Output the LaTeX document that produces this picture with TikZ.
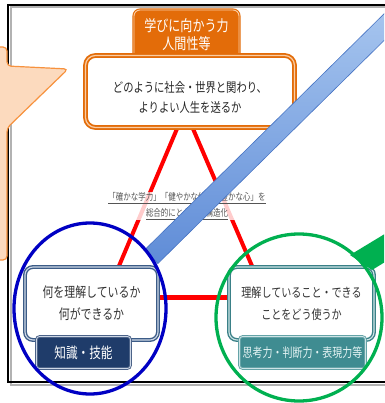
\documentclass[tikz,border=0pt]{standalone}
\usepackage{fontspec}
\newfontfamily\jp{Noto Sans CJK JP}[FakeStretch=0.78]
\usetikzlibrary{calc,shapes.geometric,backgrounds}
\definecolor{orng}{RGB}{227,108,9}
\definecolor{orngl}{RGB}{250,205,165}
\definecolor{lbord}{RGB}{60,92,135}
\definecolor{lbordl}{RGB}{205,215,230}
\definecolor{lfill}{RGB}{31,60,106}
\definecolor{rbord}{RGB}{58,128,135}
\definecolor{rbordl}{RGB}{205,228,230}
\definecolor{rfill}{RGB}{63,140,145}
\definecolor{rtext}{RGB}{228,243,243}
\definecolor{ellblue}{RGB}{0,0,195}
\definecolor{ellgreen}{RGB}{0,176,80}
\definecolor{barlight}{RGB}{170,200,240}
\definecolor{bardark}{RGB}{95,140,215}
\definecolor{baredge}{RGB}{70,115,195}
\definecolor{callfill}{RGB}{252,218,190}
\definecolor{calledge}{RGB}{247,146,62}
\definecolor{midgrey}{RGB}{85,85,85}
\begin{document}
\begin{tikzpicture}[x=1pt,y=-1pt,
  every node/.style={font=\jp},
  boxbase/.style={rounded corners=8pt, fill=white, inner sep=0pt, align=center},
  mainbox/.style={boxbase, draw=orng, double=orngl, double distance=1.2pt, line width=1.8pt,
    minimum width=209pt, minimum height=72pt, rounded corners=10pt},
  maintxt/.style={align=center, text=black!85, font=\jp\fontsize{13.2}{20}\selectfont},
  toplab/.style={fill=orng, draw=orng, double=orngl, double distance=0.9pt, line width=1.1pt,
    rounded corners=6pt, minimum width=105pt, minimum height=50pt, inner sep=0pt,
    text=white, align=center, font=\jp\fontsize{15.4}{18}\selectfont},
  lbox/.style={boxbase, draw=lbord, double=lbordl, double distance=1.1pt, line width=1.4pt,
    minimum width=133pt, minimum height=73pt, text=black!80,
    font=\jp\fontsize{14}{22}\selectfont},
  rbox/.style={boxbase, draw=rbord, double=rbordl, double distance=1.1pt, line width=1.4pt,
    minimum width=145pt, minimum height=73pt, text=black!80,
    font=\jp\fontsize{12.9}{22}\selectfont},
  llab/.style={fill=lfill, draw=lfill!80, double=lbordl, double distance=0.8pt, line width=0.9pt,
    rounded corners=3pt, minimum width=94pt, minimum height=32pt, inner sep=0pt,
    text=white, font=\jp\fontsize{14.9}{16}\selectfont},
  rlab/.style={fill=rfill, draw=rfill!80, double=rbordl, double distance=0.8pt, line width=0.9pt,
    rounded corners=3pt, minimum width=126pt, minimum height=32pt, inner sep=0pt,
    text=rtext, font=\jp\fontsize{12.8}{14}\selectfont},
  midtxt/.style={align=center, text=midgrey, fill=white, fill opacity=0.8, text opacity=1,
    inner sep=1pt, font=\jp\fontsize{9.6}{16}\selectfont},
  redl/.style={draw=red, line width=4pt},
  bluebar/.style={shade, top color=barlight, bottom color=bardark, draw=baredge, line width=0.6pt,
    minimum width=360pt, minimum height=19pt, inner sep=0pt},
  ring/.style={ellipse, draw, line width=3.3pt, inner sep=0pt},
  callout/.style={fill=callfill, draw=calledge, line width=1.2pt, rounded corners=4pt}
]
\useasboundingbox (0,0) rectangle (384,403);
\clip (0,0) rectangle (384,403);

% nodes
\node[toplab] (toplab) at (186.5,35) {学びに向かう力\\人間性等};
\node[mainbox] (main) at (190,91.5) {};
\node[maintxt] (maintext) at (190,97) {どのように社会・世界と関わり、\\よりよい人生を送るか};
\node[lbox] (lbox) at (91.5,303.5) {何を理解しているか\\何ができるか};
\node[llab] (llab) at (83.5,352.5) {知識・技能};
\node[rbox] (rbox) at (301.5,303.5) {理解していること・できる\\ことをどう使うか};
\node[rlab] (rlab) at (302.5,352.5) {思考力・判断力・表現力等};
\node[midtxt] (mid) at (187,206) {\underline{「確かな学力」「健やかな体」「豊かな心」を}\\\underline{総合的にとらえて構造化}};

% background: frame and red triangle
\begin{scope}[on background layer]
  \fill[white] (0,0) rectangle (384,403);
  \draw[black!30, line width=2pt] (10.5,7.5) rectangle (398,384.5);
  \draw[black, line width=1.8pt] (8,5) rectangle (398,382);
  \draw[redl] ($(main.south)+(-12,-2)$) -- ($(lbox.north)+(26.5,2)$);
  \draw[redl] ($(main.south)+(2,-2)$) -- ($(rbox.north)+(-48.5,2)$);
  \draw[redl, line width=5pt] ($(lbox.east)+(0,-6.5)$) -- ($(rbox.west)+(0,-6.5)$);
\end{scope}

% blue bar
\node[bluebar, rotate=44.6, anchor=west] (bar) at (151,257) {};

% highlight rings
\node[ring, draw=ellblue, minimum width=152pt, minimum height=171pt] (bluering) at (90,308.5) {};
\node[ring, draw=ellgreen, minimum width=166pt, minimum height=167pt] (greenring) at (299,317.5) {};

% green arrow tail
\fill[ellgreen] (350,255) -- (388,232) -- (390,259) -- (372,270) -- cycle;

% callout
\draw[callout] (-20,47) -- (7,47) -- (7,66) -- (68,69) -- (7,128) -- (7,260) -- (-20,260) -- cycle;
\end{tikzpicture}
\end{document}
